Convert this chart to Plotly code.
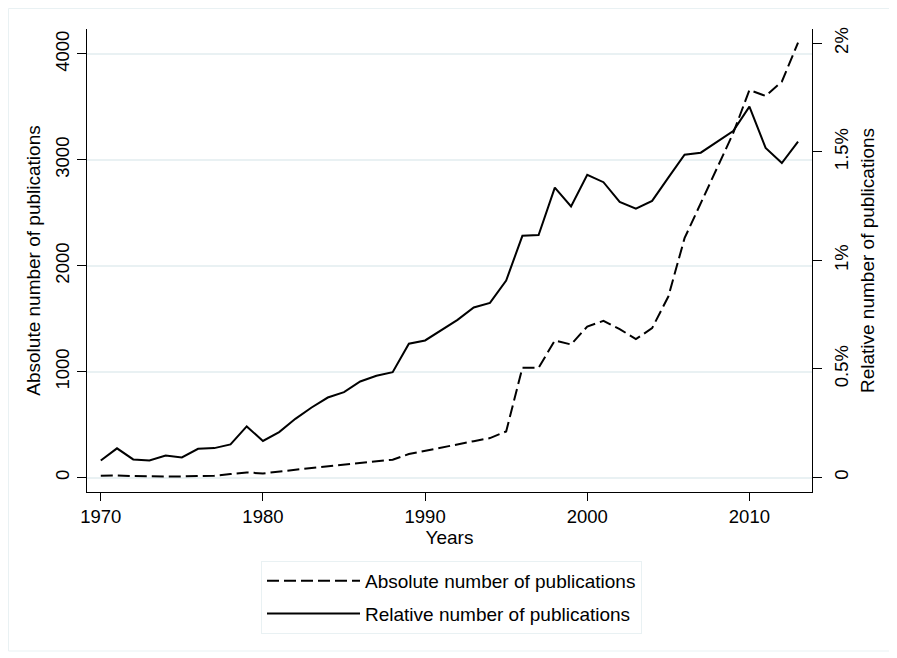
import plotly.graph_objects as go

years = list(range(1970, 2014))
absolute = [19, 22, 16, 12, 12, 12, 19, 19, 35, 50, 40, 60, 75, 91, 107, 126, 145, 157, 170, 223,
            255, 286, 314, 345, 374, 437, 1038, 1038, 1295, 1258, 1427, 1481, 1403, 1308, 1412, 1710,
            2261, 2591, 2906, 3252, 3660, 3604, 3739, 4107]
relative = [0.078, 0.134, 0.083, 0.078, 0.101, 0.092, 0.132, 0.135, 0.152, 0.235, 0.168, 0.209,
            0.270, 0.322, 0.368, 0.393, 0.442, 0.468, 0.485, 0.616, 0.631, 0.679, 0.726, 0.783,
            0.804, 0.907, 1.113, 1.117, 1.335, 1.248, 1.394, 1.360, 1.269, 1.238, 1.274, 1.381,
            1.487, 1.496, 1.544, 1.596, 1.708, 1.518, 1.448, 1.547]

x_ticks = [1970, 1980, 1990, 2000, 2010]
left_ticks = [0, 1000, 2000, 3000, 4000]
right_ticks = [0, 0.5, 1, 1.5, 2]
right_ticktext = ["0", "0.5%", "1%", "1.5%", "2%"]

FONT = "Liberation Sans, Arial, sans-serif"
GRID = "#E9F1F3"
TICK_SIZE = 18.5
TITLE_SIZE = 19

fig = go.Figure()
fig.add_trace(go.Scatter(x=years, y=absolute, mode="lines", name="Absolute number of publications",
                         legendgroup="a",
                         line=dict(color="black", width=2, dash="12px,5px"), yaxis="y"))
fig.add_trace(go.Scatter(x=years, y=relative, mode="lines", name="Relative number of publications",
                         legendgroup="b",
                         line=dict(color="black", width=2), yaxis="y2"))

# the page body adds an 8px offset; figure coordinates = screen coordinates - 8
OFF = 8
W, H = 897 - OFF, 658 - OFF
L, T = 87 - OFF, 29 - OFF
R = W - (812 - OFF)
B = H - (492 - OFF)
pw, ph = W - L - R, H - T - B

def px2x(px):
    return (px - OFF - L) / pw

def py2y(py):
    return (H - B - (py - OFF)) / ph

fig.update_layout(
    width=W, height=H,
    margin=dict(l=L, r=R, t=T, b=B, autoexpand=False),
    paper_bgcolor="white", plot_bgcolor="white",
    font=dict(family=FONT, size=TITLE_SIZE, color="black"),
    showlegend=True,
    legend=dict(x=px2x(261), y=py2y(561), xanchor="left", yanchor="top",
                bordercolor=GRID, borderwidth=1, bgcolor="white",
                font=dict(family=FONT, size=TITLE_SIZE, color="black"),
                itemwidth=93, traceorder="grouped", tracegroupgap=5),
    xaxis=dict(range=[1969.15, 2013.86], tickvals=x_ticks, showgrid=False, zeroline=False,
               showline=True, linecolor="black", linewidth=1.3, ticks="outside", ticklen=8,
               tickcolor="black", tickwidth=1.3,
               tickfont=dict(family=FONT, size=TICK_SIZE),
               title=dict(text="Years", standoff=2, font=dict(family=FONT, size=TITLE_SIZE))),
    yaxis=dict(range=[-134.9, 4235.8], tickvals=left_ticks, tickangle=-90, showgrid=True,
               gridcolor=GRID, gridwidth=2, zeroline=False, showline=True, linecolor="black",
               linewidth=1.3, ticks="outside", ticklen=9, tickcolor="black", tickwidth=1.3,
               tickfont=dict(family=FONT, size=TICK_SIZE),
               title=dict(text="Absolute number of publications", standoff=6,
                          font=dict(family=FONT, size=TITLE_SIZE))),
    yaxis2=dict(range=[-0.0672, 2.0658], tickvals=right_ticks, ticktext=right_ticktext,
                tickangle=-90, overlaying="y", side="right", showgrid=False, zeroline=False,
                showline=True, linecolor="black", linewidth=1.3, ticks="outside", ticklen=9,
                tickcolor="black", tickwidth=1.3, tickfont=dict(family=FONT, size=TICK_SIZE),
                ticklabelstandoff=4,
                title=dict(text="Relative number of publications", standoff=9,
                           font=dict(family=FONT, size=TITLE_SIZE))),
    shapes=[dict(type="rect", xref="paper", yref="paper",
                 x0=px2x(OFF + 0.5), x1=px2x(890), y0=py2y(651), y1=py2y(OFF + 0.5),
                 line=dict(color=GRID, width=1), fillcolor="rgba(0,0,0,0)", layer="below")],
)

fig.write_html("out.html")
